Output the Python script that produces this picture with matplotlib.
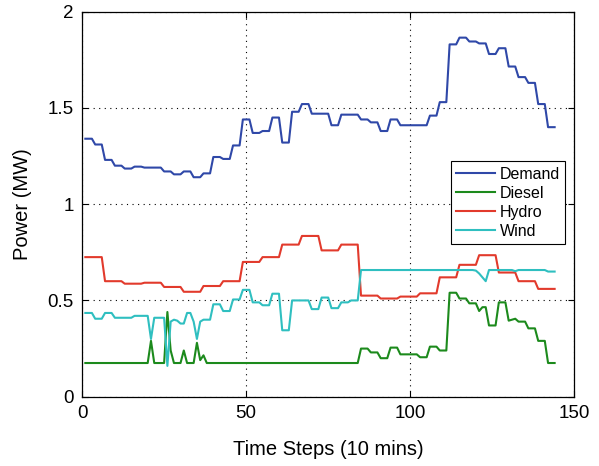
import numpy as np
import matplotlib
matplotlib.use("Agg")
import matplotlib.pyplot as plt

plt.rcParams["font.family"] = ["Liberation Sans", "DejaVu Sans"]

# 10-minute steps over one day
steps = np.arange(1, 145)

demand = [
    1.34, 1.34, 1.34, 1.31, 1.31, 1.31, 1.23, 1.23, 1.23, 1.20, 1.20, 1.20,
    1.185, 1.185, 1.185, 1.195, 1.195, 1.195, 1.19, 1.19, 1.19, 1.19, 1.19, 1.19,
    1.17, 1.17, 1.17, 1.155, 1.155, 1.155, 1.17, 1.17, 1.17, 1.14, 1.14, 1.14,
    1.16, 1.16, 1.16, 1.245, 1.245, 1.245, 1.235, 1.235, 1.235, 1.305, 1.305, 1.305,
    1.44, 1.44, 1.44, 1.37, 1.37, 1.37, 1.38, 1.38, 1.38, 1.45, 1.45, 1.45,
    1.32, 1.32, 1.32, 1.48, 1.48, 1.48, 1.52, 1.52, 1.52, 1.47, 1.47, 1.47,
    1.47, 1.47, 1.47, 1.41, 1.41, 1.41, 1.465, 1.465, 1.465, 1.465, 1.465, 1.465,
    1.44, 1.44, 1.44, 1.425, 1.425, 1.425, 1.38, 1.38, 1.38, 1.44, 1.44, 1.44,
    1.41, 1.41, 1.41, 1.41, 1.41, 1.41, 1.41, 1.41, 1.41, 1.46, 1.46, 1.46,
    1.53, 1.53, 1.53, 1.83, 1.83, 1.83, 1.865, 1.865, 1.865, 1.845, 1.845, 1.845,
    1.835, 1.835, 1.835, 1.78, 1.78, 1.78, 1.81, 1.81, 1.81, 1.715, 1.715, 1.715,
    1.66, 1.66, 1.66, 1.63, 1.63, 1.63, 1.52, 1.52, 1.52, 1.40, 1.40, 1.40,
]

diesel = [
    0.175, 0.175, 0.175, 0.175, 0.175, 0.175, 0.175, 0.175, 0.175, 0.175, 0.175, 0.175,
    0.175, 0.175, 0.175, 0.175, 0.175, 0.175, 0.175, 0.175, 0.29, 0.175, 0.175, 0.175,
    0.175, 0.44, 0.24, 0.175, 0.175, 0.175, 0.24, 0.175, 0.175, 0.175, 0.28, 0.19,
    0.215, 0.175, 0.175, 0.175, 0.175, 0.175, 0.175, 0.175, 0.175, 0.175, 0.175, 0.175,
    0.175, 0.175, 0.175, 0.175, 0.175, 0.175, 0.175, 0.175, 0.175, 0.175, 0.175, 0.175,
    0.175, 0.175, 0.175, 0.175, 0.175, 0.175, 0.175, 0.175, 0.175, 0.175, 0.175, 0.175,
    0.175, 0.175, 0.175, 0.175, 0.175, 0.175, 0.175, 0.175, 0.175, 0.175, 0.175, 0.175,
    0.25, 0.25, 0.25, 0.23, 0.23, 0.23, 0.20, 0.20, 0.20, 0.255, 0.255, 0.255,
    0.22, 0.22, 0.22, 0.22, 0.22, 0.22, 0.205, 0.205, 0.205, 0.26, 0.26, 0.26,
    0.24, 0.24, 0.24, 0.54, 0.54, 0.54, 0.51, 0.51, 0.51, 0.485, 0.485, 0.485,
    0.445, 0.465, 0.465, 0.37, 0.37, 0.37, 0.49, 0.49, 0.49, 0.395, 0.40, 0.405,
    0.39, 0.39, 0.39, 0.355, 0.355, 0.355, 0.29, 0.29, 0.29, 0.175, 0.175, 0.175,
]

hydro = [
    0.725, 0.725, 0.725, 0.725, 0.725, 0.725, 0.60, 0.60, 0.60, 0.60, 0.60, 0.60,
    0.587, 0.587, 0.587, 0.587, 0.587, 0.587, 0.592, 0.592, 0.592, 0.592, 0.592, 0.592,
    0.57, 0.57, 0.57, 0.57, 0.57, 0.57, 0.545, 0.545, 0.545, 0.545, 0.545, 0.545,
    0.575, 0.575, 0.575, 0.575, 0.575, 0.575, 0.60, 0.60, 0.60, 0.60, 0.60, 0.60,
    0.70, 0.70, 0.70, 0.70, 0.70, 0.70, 0.725, 0.725, 0.725, 0.725, 0.725, 0.725,
    0.79, 0.79, 0.79, 0.79, 0.79, 0.79, 0.835, 0.835, 0.835, 0.835, 0.835, 0.835,
    0.76, 0.76, 0.76, 0.76, 0.76, 0.76, 0.79, 0.79, 0.79, 0.79, 0.79, 0.79,
    0.525, 0.525, 0.525, 0.525, 0.525, 0.525, 0.51, 0.51, 0.51, 0.51, 0.51, 0.51,
    0.52, 0.52, 0.52, 0.52, 0.52, 0.52, 0.537, 0.537, 0.537, 0.537, 0.537, 0.537,
    0.62, 0.62, 0.62, 0.62, 0.62, 0.62, 0.685, 0.685, 0.685, 0.685, 0.685, 0.685,
    0.735, 0.735, 0.735, 0.735, 0.735, 0.735, 0.645, 0.645, 0.645, 0.645, 0.645, 0.645,
    0.60, 0.60, 0.60, 0.60, 0.60, 0.60, 0.56, 0.56, 0.56, 0.56, 0.56, 0.56,
]

wind = [
    0.435, 0.435, 0.435, 0.405, 0.405, 0.405, 0.435, 0.435, 0.435, 0.41, 0.41, 0.41,
    0.41, 0.41, 0.41, 0.42, 0.42, 0.42, 0.42, 0.42, 0.30, 0.41, 0.41, 0.41,
    0.41, 0.16, 0.39, 0.40, 0.395, 0.38, 0.38, 0.435, 0.435, 0.39, 0.30, 0.39,
    0.40, 0.40, 0.40, 0.48, 0.48, 0.48, 0.445, 0.445, 0.445, 0.505, 0.505, 0.505,
    0.555, 0.555, 0.555, 0.49, 0.49, 0.49, 0.475, 0.475, 0.475, 0.535, 0.535, 0.535,
    0.345, 0.345, 0.345, 0.50, 0.50, 0.50, 0.50, 0.50, 0.50, 0.455, 0.455, 0.455,
    0.515, 0.515, 0.515, 0.46, 0.46, 0.46, 0.49, 0.49, 0.49, 0.50, 0.50, 0.50,
    0.658, 0.658, 0.658, 0.658, 0.658, 0.658, 0.658, 0.658, 0.658, 0.658, 0.658, 0.658,
    0.658, 0.658, 0.658, 0.658, 0.658, 0.658, 0.658, 0.658, 0.658, 0.658, 0.658, 0.658,
    0.658, 0.658, 0.658, 0.658, 0.658, 0.658, 0.658, 0.658, 0.658, 0.658, 0.658, 0.655,
    0.64, 0.62, 0.60, 0.658, 0.658, 0.658, 0.658, 0.658, 0.658, 0.658, 0.658, 0.652,
    0.658, 0.658, 0.658, 0.658, 0.658, 0.658, 0.658, 0.658, 0.658, 0.65, 0.65, 0.65,
]

series = [
    ("Demand", demand, "#2f48a8"),
    ("Diesel", diesel, "#1c8a1c"),
    ("Hydro", hydro, "#e23a2c"),
    ("Wind", wind, "#2fbfc0"),
]

fig = plt.figure(figsize=(5.99, 4.66), dpi=100)
ax = fig.add_axes([0.137, 0.1487, 0.8218, 0.8263])

for name, vals, color in series:
    ax.plot(steps, vals, color=color, linewidth=1.5, label=name)

ax.set_xlim(0, 150)
ax.set_ylim(0, 2)
ax.set_xticks([0, 50, 100, 150])
ax.set_yticks([0, 0.5, 1, 1.5, 2])
ax.set_yticklabels(["0", "0.5", "1", "1.5", "2"])
ax.tick_params(direction="in", top=True, right=True, labelsize=13.5,
               length=4, width=0.8, pad=6)
ax.grid(True, color="black", linestyle=(0, (1, 4)), linewidth=0.8)
for sp in ax.spines.values():
    sp.set_linewidth(0.9)

ax.set_xlabel("Time Steps (10 mins)", fontsize=14.5, labelpad=13)
ax.set_ylabel("Power (MW)", fontsize=14.5, labelpad=11)

leg = ax.legend(loc="upper right", bbox_to_anchor=(0.982, 0.612),
                fontsize=11.5, frameon=True, fancybox=False, framealpha=1,
                edgecolor="black", handlelength=2.4, handletextpad=0.3,
                borderpad=0.35, labelspacing=0.25, borderaxespad=0)
leg.get_frame().set_linewidth(0.8)

fig.savefig("out.png", dpi=100)
